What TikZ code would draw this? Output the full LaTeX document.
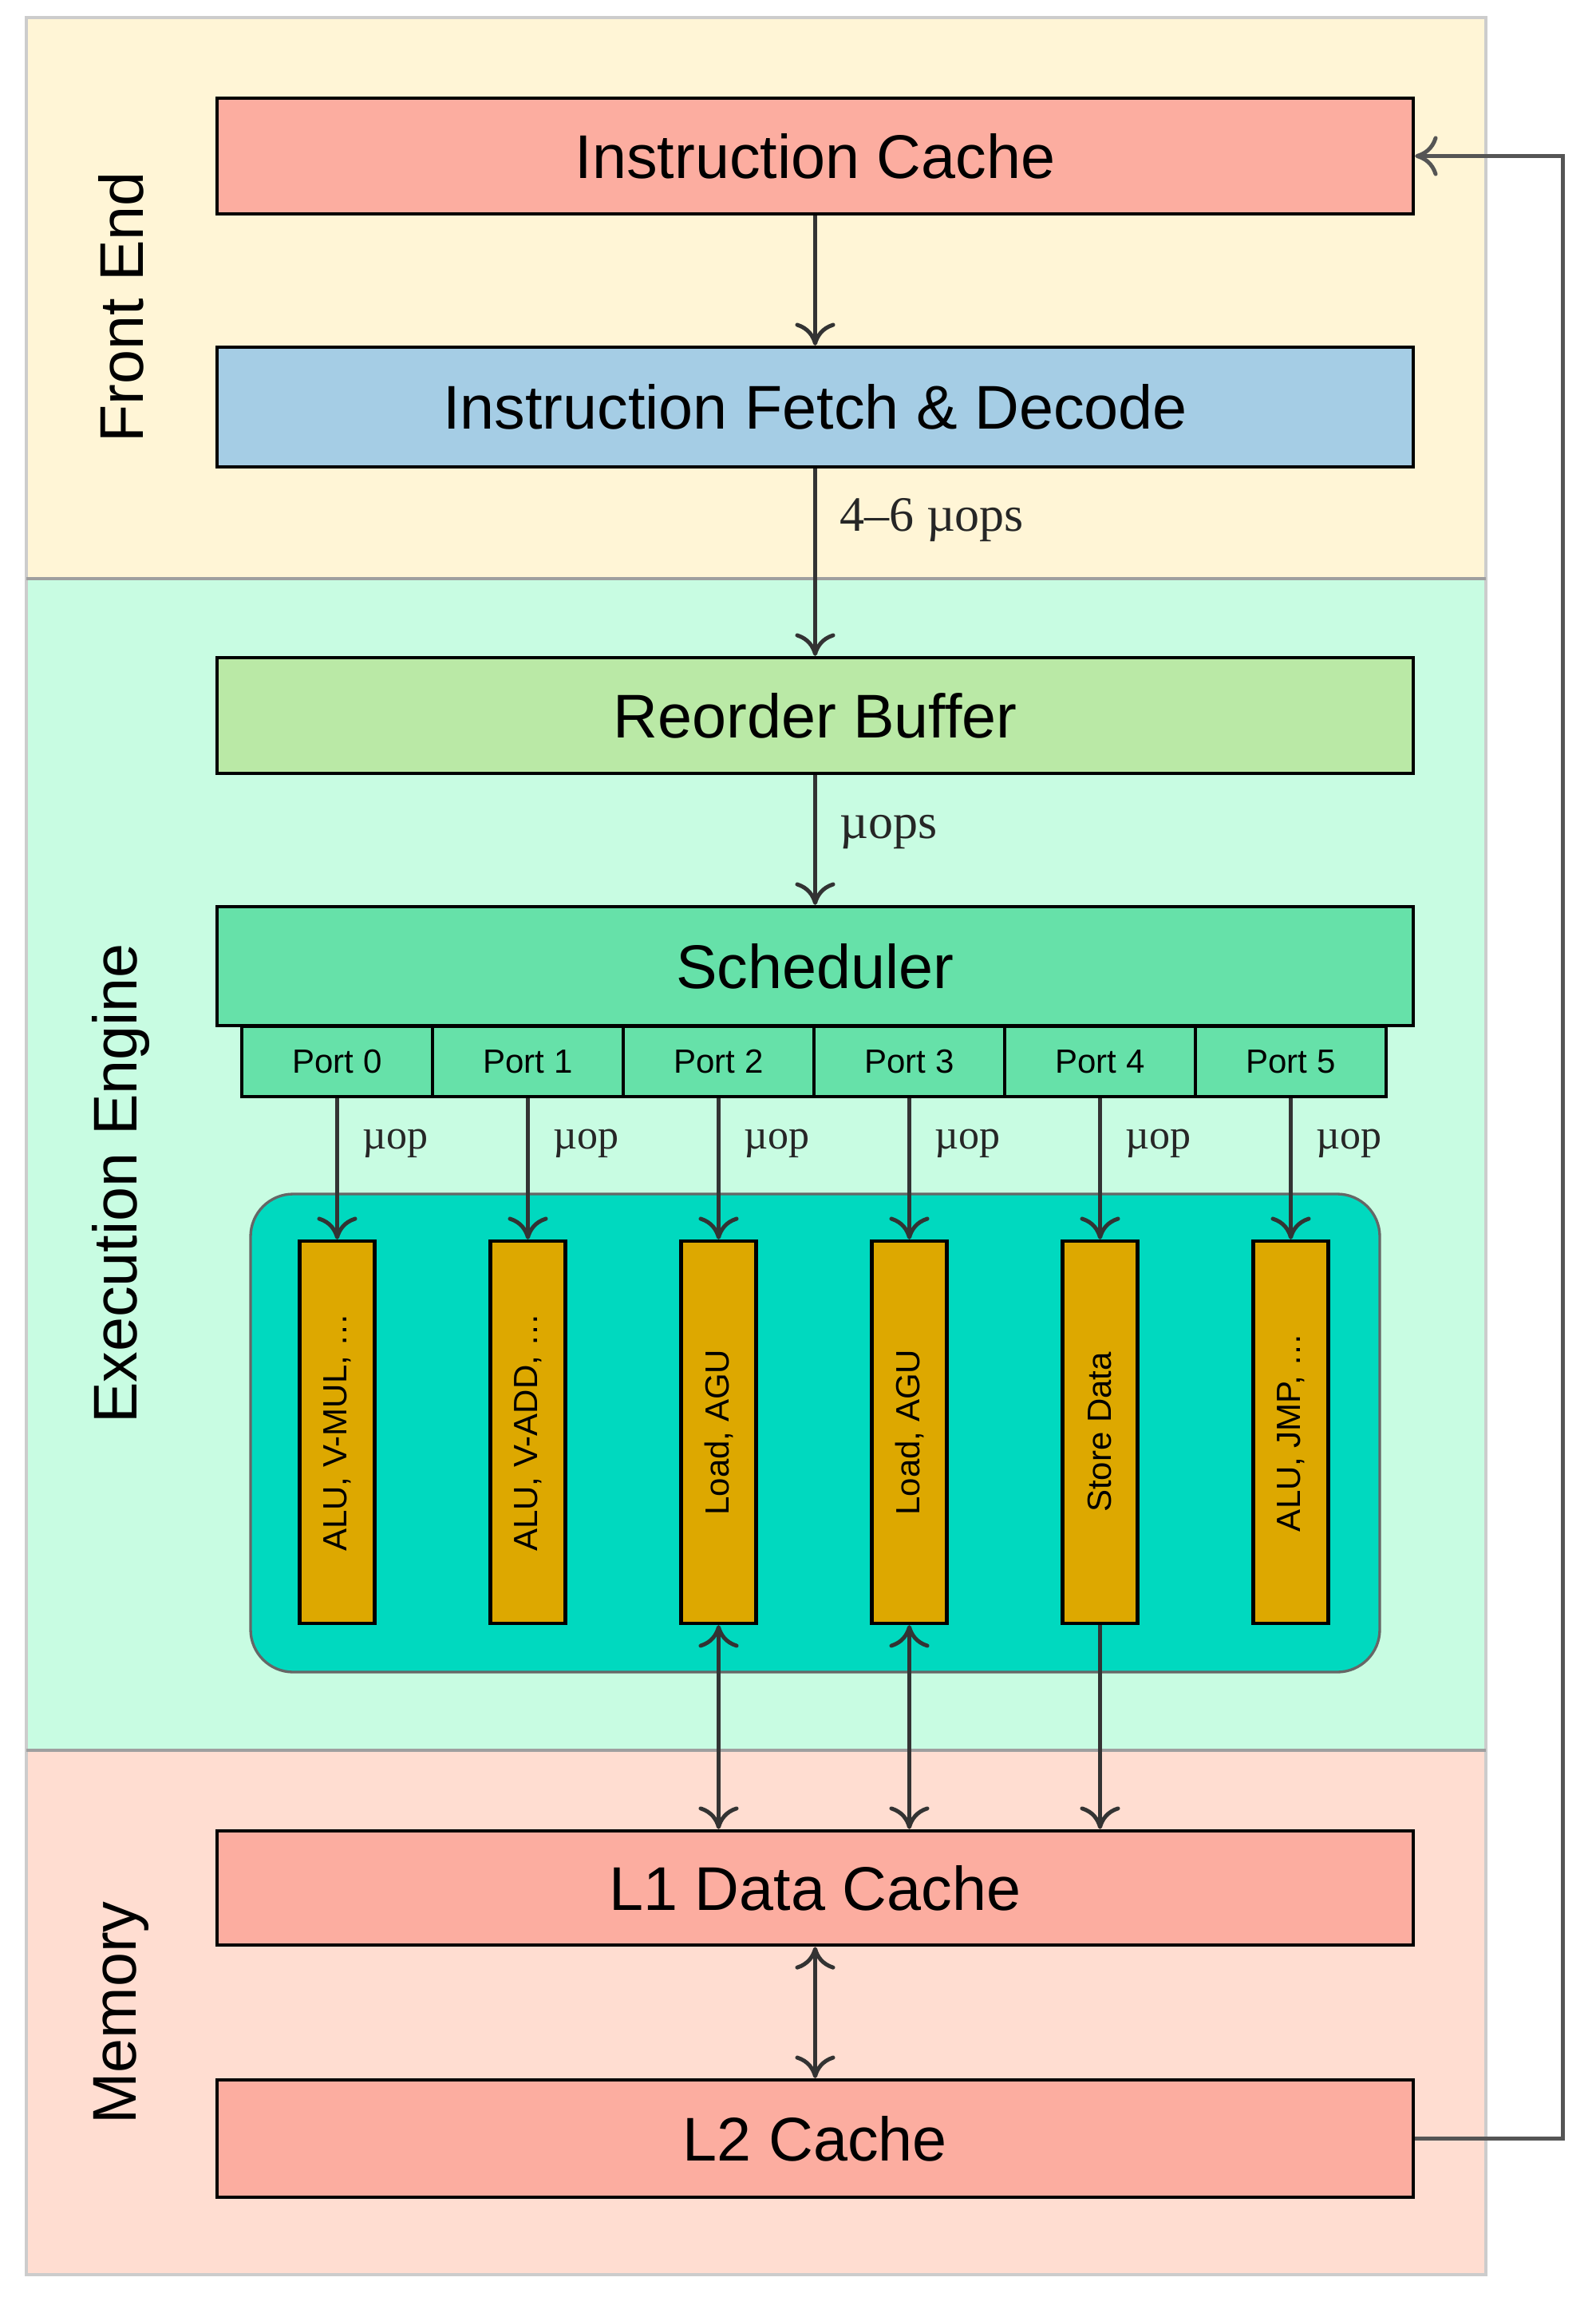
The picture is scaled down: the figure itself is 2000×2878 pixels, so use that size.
\documentclass[tikz,border=0pt]{standalone}
\usepackage{fontspec}
\usepackage{graphicx}
\setmainfont{Liberation Sans}
\newfontfamily\lblserif{Liberation Serif}
\usetikzlibrary{arrows.meta}
\definecolor{feband}{HTML}{FFF5D6}
\definecolor{eeband}{HTML}{C8FCE2}
\definecolor{memband}{HTML}{FFDDD1}
\definecolor{cachec}{HTML}{FCADA0}
\definecolor{fetchc}{HTML}{A5CDE5}
\definecolor{robc}{HTML}{BAE9A6}
\definecolor{schedc}{HTML}{66E1A9}
\definecolor{unitc}{HTML}{DDA800}
\definecolor{poolc}{HTML}{00D9BF}
\definecolor{arrc}{HTML}{333333}
\definecolor{fbc}{HTML}{555555}
\tikzset{
  bigbox/.style={draw=black, line width=1.3pt, minimum width=449.7pt, inner sep=0pt,
    font=\fontsize{23.2}{28}\selectfont, text=black},
  portbox/.style={draw=black, line width=1.3pt, fill=schedc, minimum width=71.7pt,
    minimum height=26.4pt, inner sep=0pt, font=\fontsize{12.6}{15}\selectfont, text=black},
  unitbox/.style={draw=black, line width=1.3pt, fill=unitc, minimum width=28.2pt,
    minimum height=143.7pt, inner sep=0pt, font=\fontsize{12.6}{15}\selectfont, text=black},
  bandlbl/.style={rotate=90, font=\fontsize{23.2}{28}\selectfont, text=black},
  conn/.style={draw=arrc, line width=1.5pt, -{To[length=8.5pt,width=15pt]}},
  conn2/.style={draw=arrc, line width=1.5pt, {To[length=8.5pt,width=15pt]}-{To[length=8.5pt,width=15pt]}},
  fbline/.style={draw=fbc, line width=1.5pt, -{To[length=8.5pt,width=15pt]}},
  uoplbl/.style={font=\lblserif\fontsize{15.6}{18}\selectfont, text=black!85, anchor=west, inner sep=0pt},
  uopslbl/.style={font=\lblserif\fontsize{18.6}{22}\selectfont, text=black!85, anchor=west, inner sep=0pt},
}
\begin{document}
\begin{tikzpicture}[x=0.3pt,y=-0.3pt]
\useasboundingbox (0,0) rectangle (2000,2878);
\fill[white] (0,0) rectangle (2000,2878);
% bands
\fill[feband] (33,22) rectangle (1862,725);
\fill[eeband] (33,725) rectangle (1862,2193);
\fill[memband] (33,2193) rectangle (1862,2850);
\draw[gray!40, line width=1.2pt] (33,22) rectangle (1862,2850);
\draw[gray!75, line width=1.2pt] (33,725) -- (1862,725);
\draw[gray!75, line width=1.2pt] (33,2193) -- (1862,2193);
\node[bandlbl] (lfe) at (152,385) {Front End};
\node[bandlbl] (lee) at (152,1483) {Execution Engine};
\node[bandlbl] (lmem) at (152,2522) {Memory};
% main boxes
\node[bigbox, fill=cachec, minimum height=43.5pt] (ic) at (1021.5,195.5) {Instruction Cache};
\node[bigbox, fill=fetchc, minimum height=45pt] (fd) at (1021.5,510) {Instruction Fetch \& Decode};
\node[bigbox, fill=robc, minimum height=43.5pt] (rob) at (1021.5,896.5) {Reorder Buffer};
\node[bigbox, fill=schedc, minimum height=44.7pt] (sch) at (1021.5,1210.5) {Scheduler};
\node[bigbox, fill=cachec, minimum height=43pt] (l1) at (1021.5,2365.5) {L1 Data Cache};
\node[bigbox, fill=cachec, minimum height=44.1pt] (l2) at (1021.5,2679.5) {L2 Cache};
% pool
\draw[fill=poolc, draw=gray!80!black, line width=1pt, rounded corners=16pt] (314,1496) rectangle (1729,2095);
% ports and units
\foreach \i/\xc/\txt in {0/422.5/{ALU, V-MUL, \ldots},1/661.5/{ALU, V-ADD, \ldots},2/900.5/{Load, AGU},3/1139.5/{Load, AGU},4/1378.5/{Store Data},5/1617.5/{ALU, JMP, \ldots}}{
  \node[portbox] (p\i) at (\xc,1330) {Port \i};
  \node[unitbox] (u\i) at (\xc,1794.5) {\rotatebox{90}{\txt}};
  \draw[conn] (p\i.south) -- (u\i.north);
  \node[uoplbl] (m\i) at (\xc+31,1433) {µop};
}
% connectors
\draw[conn] (ic.south) -- (fd.north);
\draw[conn] (fd.south) -- (rob.north);
\node[uopslbl] (lab1) at (1052,652) {4–6 µops};
\draw[conn] (rob.south) -- (sch.north);
\node[uopslbl] (lab2) at (1052,1042) {µops};
\draw[conn2] (u2.south) -- (u2.south |- l1.north);
\draw[conn2] (u3.south) -- (u3.south |- l1.north);
\draw[conn] (u4.south) -- (u4.south |- l1.north);
\draw[conn2] (l1.south) -- (l2.north);
\coordinate (fbx) at (1958,0);
\draw[fbline] (l2.east) -- (l2.east -| fbx) -- (ic.east -| fbx) -- (ic.east);
\end{tikzpicture}
\end{document}
